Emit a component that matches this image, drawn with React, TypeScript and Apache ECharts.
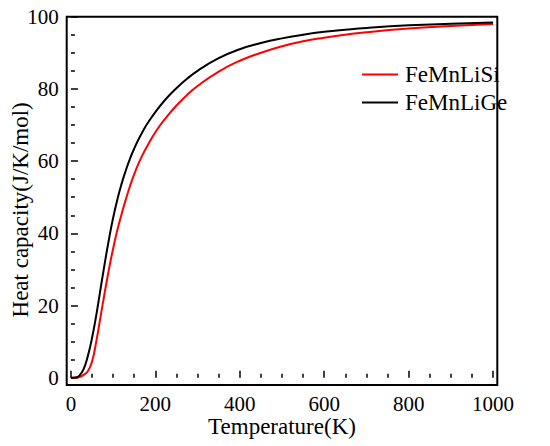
import React, { useEffect, useRef } from "react";
import * as echarts from "echarts";

const temperatures = [0, 10, 20, 30, 40, 50, 60, 70, 80, 90, 100, 110, 120, 130, 140, 150, 160, 170, 180, 200, 225, 250, 275, 300, 350, 400, 450, 500, 550, 600, 650, 700, 800, 900, 1000];
const feMnLiGe = [0, 0.05, 0.6, 2.4, 6.0, 11.0, 17.3, 24.5, 31.6, 38.3, 44.3, 49.4, 53.7, 57.4, 60.7, 63.5, 66.0, 68.2, 70.2, 73.6, 77.2, 80.2, 82.8, 85.0, 88.5, 91.0, 92.7, 94.0, 95.0, 95.8, 96.4, 96.9, 97.6, 98.05, 98.4];
const feMnLiSi = [0, 0, 0.2, 0.8, 1.8, 4.5, 10.0, 16.8, 23.6, 30.0, 35.8, 40.9, 45.3, 49.4, 53.1, 56.4, 59.3, 61.8, 64.0, 68.0, 72.0, 75.4, 78.3, 80.8, 84.8, 87.8, 90.0, 91.8, 93.2, 94.2, 95.0, 95.7, 96.7, 97.4, 98.0];

const xMajorTicks = [0, 200, 400, 600, 800, 1000];
const xMinorTicks = [50, 100, 150, 250, 300, 350, 450, 500, 550, 650, 700, 750, 850, 900, 950];
const yMajorTicks = [0, 20, 40, 60, 80, 100];
const yMinorTicks = [5, 10, 15, 25, 30, 35, 45, 50, 55, 65, 70, 75, 85, 90, 95];

const FONT = "Liberation Serif";

export default function App() {
  const ref = useRef<HTMLDivElement>(null);
  useEffect(() => {
    if (!ref.current) return;
    const chart = echarts.init(ref.current, null, { renderer: "svg" });
    const xMin = -10, xMax = 1010, yMin = -2, yMax = 100;
    chart.setOption({
      animation: false,
      backgroundColor: "#fff",
      textStyle: { fontFamily: FONT },
      grid: {
        left: 66.7, right: 52.7, top: 16.7, bottom: 61,
        containLabel: false, outerBoundsMode: "none",
        show: true, borderColor: "#000", borderWidth: 2, backgroundColor: "transparent",
      },
      legend: {
        orient: "vertical",
        left: 357,
        top: 58,
        itemWidth: 36,
        itemHeight: 2,
        itemGap: 5,
        icon: "rect",
        textStyle: { fontFamily: FONT, fontSize: 23, color: "#000", padding: [0, 0, 0, 2] },
        data: ["FeMnLiSi", "FeMnLiGe"],
      },
      xAxis: [
        {
          type: "value", min: xMin, max: xMax,
          name: "Temperature(K)", nameLocation: "middle", nameGap: 30, nameMoveOverlap: false,
          nameTextStyle: { fontFamily: FONT, fontSize: 23, color: "#000" },
          axisLine: { show: false },
          axisTick: { show: true, inside: true, length: 7, customValues: xMajorTicks, lineStyle: { color: "#000", width: 1.5 } },
          axisLabel: { show: true, customValues: xMajorTicks, margin: 8, fontFamily: FONT, fontSize: 21, color: "#000", formatter: (v: number) => String(v) },
          splitLine: { show: false },
        },
        {
          type: "value", min: xMin, max: xMax, position: "bottom",
          axisLine: { show: false },
          axisTick: { show: true, inside: true, length: 4, customValues: xMinorTicks, lineStyle: { color: "#000", width: 1.5 } },
          axisLabel: { show: false },
          splitLine: { show: false },
        },
      ],
      yAxis: [
        {
          type: "value", min: yMin, max: yMax,
          name: "Heat capacity(J/K/mol)", nameLocation: "middle", nameGap: 35, nameRotate: 90, nameMoveOverlap: false,
          nameTextStyle: { fontFamily: FONT, fontSize: 23, color: "#000", padding: [0, 18, 0, 0] },
          axisLine: { show: false },
          axisTick: { show: true, inside: true, length: 7, customValues: yMajorTicks, lineStyle: { color: "#000", width: 1.5 } },
          axisLabel: { show: true, customValues: yMajorTicks, margin: 8, fontFamily: FONT, fontSize: 21, color: "#000", formatter: (v: number) => String(v) },
          splitLine: { show: false },
        },
        {
          type: "value", min: yMin, max: yMax, position: "left",
          axisLine: { show: false },
          axisTick: { show: true, inside: true, length: 4, customValues: yMinorTicks, lineStyle: { color: "#000", width: 1.5 } },
          axisLabel: { show: false },
          splitLine: { show: false },
        },
      ],
      series: [
        {
          name: "FeMnLiSi", type: "line", smooth: true, symbol: "none",
          xAxisIndex: 0, yAxisIndex: 0,
          lineStyle: { color: "#ff0000", width: 2 }, itemStyle: { color: "#ff0000" },
          data: temperatures.map((t, i) => [t, feMnLiSi[i]]),
        },
        {
          name: "FeMnLiGe", type: "line", smooth: true, symbol: "none",
          xAxisIndex: 0, yAxisIndex: 0,
          lineStyle: { color: "#000", width: 2 }, itemStyle: { color: "#000" },
          data: temperatures.map((t, i) => [t, feMnLiGe[i]]),
        },
      ],
    });
    return () => chart.dispose();
  }, []);
  return (
    <div
      ref={ref}
      style={{ position: "fixed", left: 0, top: 0, width: 550, height: 446, background: "#fff" }}
    />
  );
}
